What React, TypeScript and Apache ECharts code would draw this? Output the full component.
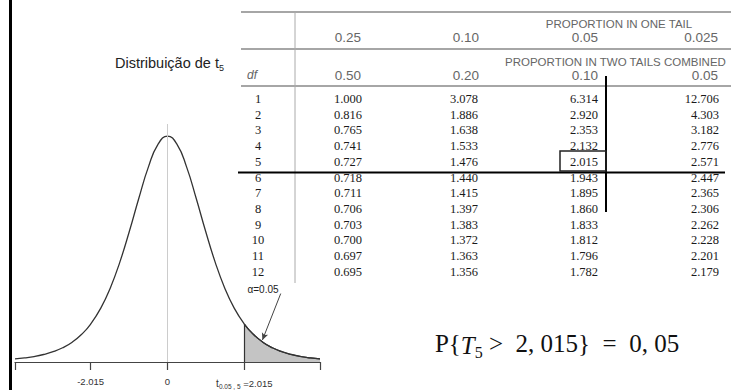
import React, { useEffect, useRef } from 'react';
import * as echarts from 'echarts';

// t(5) density
const tX = [-4, -3.75, -3.5, -3.25, -3, -2.75, -2.5, -2.25, -2.015, -1.75, -1.5, -1.25, -1, -0.75, -0.5, -0.25, 0,
  0.25, 0.5, 0.75, 1, 1.25, 1.5, 1.75, 2.015, 2.25, 2.5, 2.75, 3, 3.25, 3.5, 3.75, 4];
const tY = [0.0051, 0.0069, 0.0092, 0.0126, 0.0173, 0.0239, 0.0333, 0.0466, 0.0638, 0.0905, 0.1245, 0.1679, 0.2197, 0.2757, 0.3279, 0.3657, 0.3796,
  0.3657, 0.3279, 0.2757, 0.2197, 0.1679, 0.1245, 0.0905, 0.0638, 0.0466, 0.0333, 0.0239, 0.0173, 0.0126, 0.0092, 0.0069, 0.0051];
const critical = 2.015;
const criticalDensity = 0.0638;
const tickValues = [-4, -2.015, 0, 2.015, 4];
const labelValues = [-2.015, 0, 2.015];
const labelTexts = ['-2.015', '0', '{t|t}{s|0.05 , 5}{e| =2.015}'];
const alphaText = 'α=0.05';
const arrowFrom = [2.97, 0.115];
const arrowTo = [2.49, 0.037];

// table
const oneTailHeads = ['0.25', '0.10', '0.05', '0.025'];
const twoTailHeads = ['0.50', '0.20', '0.10', '0.05'];
const dfList = ['1', '2', '3', '4', '5', '6', '7', '8', '9', '10', '11', '12'];
const col25 = ['1.000', '0.816', '0.765', '0.741', '0.727', '0.718', '0.711', '0.706', '0.703', '0.700', '0.697', '0.695'];
const col10 = ['3.078', '1.886', '1.638', '1.533', '1.476', '1.440', '1.415', '1.397', '1.383', '1.372', '1.363', '1.356'];
const col05 = ['6.314', '2.920', '2.353', '2.132', '2.015', '1.943', '1.895', '1.860', '1.833', '1.812', '1.796', '1.782'];
const col025 = ['12.706', '4.303', '3.182', '2.776', '2.571', '2.447', '2.365', '2.306', '2.262', '2.228', '2.201', '2.179'];
const oneTailTitle = 'PROPORTION IN ONE TAIL';
const twoTailTitle = 'PROPORTION IN TWO TAILS COMBINED';
const dfTitle = 'df';
const chartTitle = '{a|Distribuição de t}{s|5}';
const formula = 'P{{i|T}{s|5} >  2, 015}  =  0, 05';

export default function App() {
  const ref = useRef<HTMLDivElement>(null);
  useEffect(() => {
    if (!ref.current) return;
    const chart = echarts.init(ref.current, null, { renderer: 'svg' });

    const curve = tX.map((x, i) => [x, tY[i]]);
    const tail = curve.filter((p) => p[0] >= critical - 1e-9);

    const colRights = [362, 478, 598, 719];
    const headRights = [361, 479, 598, 718];
    const cols = [col25, col10, col05, col025];
    const rowY0 = 99;
    const rowStep = 15.7;
    const headFont = '11.5px "Liberation Sans", Arial, sans-serif';
    const headColor = '#666';
    const txt = (x: number, y: number, text: string, font: string, fill: string, align: string, extra: any = {}) => ({
      type: 'text', x, y, silent: true,
      style: { text, font, fill, align, verticalAlign: 'middle', textAlign: align, textVerticalAlign: 'middle', ...extra },
    });
    const ln = (x1: number, y1: number, x2: number, y2: number, stroke: string, lineWidth: number) => ({
      type: 'line', silent: true, shape: { x1, y1, x2, y2 }, style: { stroke, lineWidth },
    });

    const graphics: any[] = [];
    // left border
    graphics.push(ln(10.5, 0, 10.5, 390, '#000', 3));
    // title
    graphics.push(txt(115, 61, chartTitle, '14.5px "Liberation Sans", Arial, sans-serif', '#222', 'left', {
      rich: {
        a: { fontSize: 14.5, fontFamily: '"Liberation Sans", Arial', fill: '#222', lineHeight: 18, verticalAlign: 'bottom' },
        s: { fontSize: 9, fontFamily: '"Liberation Sans", Arial', fill: '#222', lineHeight: 18, verticalAlign: 'bottom', padding: [0, 0, -2, 0] },
      },
    }));
    // table lines
    graphics.push(ln(241, 12, 731, 12, '#888', 1.5));
    graphics.push(ln(241, 49, 731, 49, '#888', 1.5));
    graphics.push(ln(241, 86, 731, 86, '#888', 1.5));
    graphics.push(ln(295, 12, 295, 283, '#aaa', 1));
    // headers
    graphics.push(txt(619, 24, oneTailTitle, headFont, headColor, 'center'));
    graphics.push(txt(505, 62, twoTailTitle, headFont, headColor, 'left'));
    graphics.push(txt(252, 75, dfTitle, 'italic 12px "Liberation Sans", Arial, sans-serif', headColor, 'center'));
    oneTailHeads.forEach((h, i) => graphics.push(txt(headRights[i], 37, h, '13.5px "Liberation Sans", Arial, sans-serif', headColor, 'right')));
    twoTailHeads.forEach((h, i) => graphics.push(txt(headRights[i], 75, h, '13.5px "Liberation Sans", Arial, sans-serif', headColor, 'right')));
    // rows
    const cellFont = '12.5px "Liberation Serif", "Times New Roman", serif';
    dfList.forEach((d, r) => {
      const y = rowY0 + r * rowStep;
      graphics.push(txt(258, y, d, cellFont, '#1a1a1a', 'center'));
      cols.forEach((c, ci) => graphics.push(txt(colRights[ci], y, c[r], cellFont, '#1a1a1a', 'right')));
    });
    // highlight overlay
    graphics.push(ln(238, 172.5, 725, 172.5, '#000', 2));
    graphics.push(ln(606, 76, 606, 212, '#000', 2));
    graphics.push({ type: 'rect', silent: true, shape: { x: 560, y: 151, width: 46, height: 20 }, style: { fill: 'none', stroke: '#222', lineWidth: 1.5 } });
    // alpha label
    graphics.push(txt(263, 289, alphaText, '10px "Liberation Sans", Arial, sans-serif', '#222', 'center'));
    // formula
    graphics.push(txt(557, 343, formula, '25px "Liberation Serif", "Times New Roman", serif', '#111', 'center', {
      rich: {
        i: { fontSize: 25, fontStyle: 'italic', fontFamily: '"Liberation Serif", serif', fill: '#111', lineHeight: 30, verticalAlign: 'bottom' },
        s: { fontSize: 16, fontFamily: '"Liberation Serif", serif', fill: '#111', lineHeight: 30, verticalAlign: 'bottom', padding: [0, 0, -2, 0] },
      },
    }));

    chart.setOption({
      animation: false,
      backgroundColor: '#fff',
      grid: { left: 15, right: 411, top: 124, bottom: 26, containLabel: false },
      xAxis: {
        type: 'value', min: -4, max: 4,
        axisLine: { show: true, onZero: true, lineStyle: { color: '#444', width: 1.2 } },
        axisTick: { show: true, customValues: tickValues, length: 8, lineStyle: { color: '#444', width: 1.2 } },
        splitLine: { show: false },
        axisLabel: {
          customValues: labelValues,
          margin: 14,
          fontSize: 9.5,
          fontFamily: '"Liberation Sans", Arial, sans-serif',
          color: '#333',
          formatter: (v: number) => {
            const i = labelValues.findIndex((l) => Math.abs(l - v) < 1e-6);
            return i >= 0 ? labelTexts[i] : '';
          },
          rich: {
            t: { fontSize: 10, color: '#333', verticalAlign: 'bottom', lineHeight: 12 },
            s: { fontSize: 6.5, color: '#333', verticalAlign: 'bottom', lineHeight: 12, padding: [0, 0, -2, 0] },
            e: { fontSize: 9.5, color: '#333', verticalAlign: 'bottom', lineHeight: 12 },
          },
        },
      },
      yAxis: { type: 'value', min: 0, max: 0.4, show: false },
      series: [
        {
          type: 'line', data: tail, smooth: true, symbol: 'none', silent: true, z: 1,
          lineStyle: { color: '#333', width: 1.2 },
          areaStyle: { color: '#c4c4c4', opacity: 1 },
          markLine: {
            silent: true, symbol: ['none', 'none'], label: { show: false },
            lineStyle: { color: '#333', width: 1.2, type: 'solid' },
            data: [[{ coord: [critical, 0] }, { coord: [critical, criticalDensity] }]],
          },
        },
        {
          type: 'line', data: curve, smooth: true, symbol: 'none', silent: true, z: 2,
          lineStyle: { color: '#333', width: 1.3 },
          markLine: {
            silent: true, symbol: ['none', 'none'], label: { show: false },
            lineStyle: { color: '#ccc', width: 1, type: 'solid' },
            data: [{ xAxis: 0 }],
          },
        },
        {
          type: 'line', data: [], silent: true,
          markLine: {
            silent: true, symbol: ['none', 'arrow'], symbolSize: [5, 7], label: { show: false },
            lineStyle: { color: '#444', width: 1, type: 'solid' },
            data: [[{ coord: arrowFrom }, { coord: arrowTo }]],
          },
        },
      ],
      graphic: graphics,
    });
    return () => chart.dispose();
  }, []);
  return <div ref={ref} style={{ position: 'fixed', left: 0, top: 0, width: 731, height: 390 }} />;
}
